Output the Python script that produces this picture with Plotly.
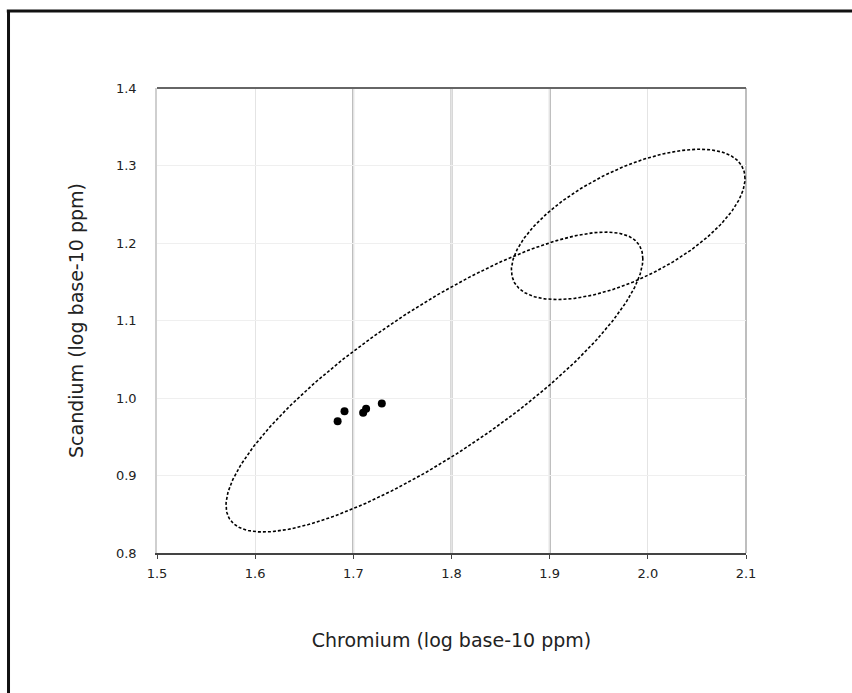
import numpy as np
import plotly.graph_objects as go

# Sample measurements (log10 ppm)
chromium = [1.684, 1.691, 1.710, 1.713, 1.729]
scandium = [0.970, 0.983, 0.981, 0.986, 0.993]

# Confidence ellipses: centre, half-widths along x / y, and correlation
ellipse_names = ["Group A", "Group B"]
ellipse_cx = [1.7826, 1.980]
ellipse_cy = [1.0206, 1.224]
ellipse_sx = [0.2123, 0.119]
ellipse_sy = [0.1935, 0.097]
ellipse_rho = [0.822, 0.61]

x_ticks = [1.5, 1.6, 1.7, 1.8, 1.9, 2.0, 2.1]
y_ticks = [0.8, 0.9, 1.0, 1.1, 1.2, 1.3, 1.4]
strong_x_grid = [1.7, 1.8, 1.9]

FONT = "DejaVu Sans"

fig = go.Figure()

t = np.linspace(0, 2 * np.pi, 400)
for name, cx, cy, sx, sy, rho in zip(ellipse_names, ellipse_cx, ellipse_cy,
                                     ellipse_sx, ellipse_sy, ellipse_rho):
    ex = cx + sx * np.cos(t)
    ey = cy + sy * (rho * np.cos(t) + np.sqrt(1 - rho ** 2) * np.sin(t))
    fig.add_trace(go.Scatter(
        x=ex, y=ey, mode="lines", name=name, showlegend=False,
        line=dict(color="black", width=1.6, dash="3px,2px"),
        hoverinfo="skip",
    ))

fig.add_trace(go.Scatter(
    x=chromium, y=scandium, mode="markers", showlegend=False,
    marker=dict(color="black", size=8, symbol="circle"),
))

shapes = []
# emphasised vertical grid lines
for xv in strong_x_grid:
    shapes.append(dict(type="line", xref="x", yref="paper", x0=xv, x1=xv,
                       y0=0, y1=1, line=dict(color="#666666", width=1.5),
                       layer="between"))
# right edge and top edge of the plot frame
shapes.append(dict(type="line", xref="paper", yref="paper", x0=1, x1=1,
                   y0=0, y1=1, line=dict(color="#a8a8a8", width=1.5),
                   layer="between"))
shapes.append(dict(type="line", xref="paper", yref="paper", x0=0, x1=1,
                   y0=1, y1=1, line=dict(color="#666666", width=2)))
# outer page border (left and top)
shapes.append(dict(type="line", xref="paper", yref="paper", x0=-0.2521,
                   x1=-0.2521, y0=-0.31, y1=1.167,
                   line=dict(color="#111111", width=3)))
shapes.append(dict(type="line", xref="paper", yref="paper", x0=-0.255,
                   x1=1.19, y0=1.1656, y1=1.1656,
                   line=dict(color="#111111", width=3)))

fig.update_layout(
    width=852, height=693,
    margin=dict(l=157, r=106, t=88, b=140),
    paper_bgcolor="white", plot_bgcolor="white",
    font=dict(family=FONT, color="#222222"),
    shapes=shapes,
    xaxis=dict(
        range=[1.5, 2.1], tickvals=x_ticks,
        ticktext=[f"{v:.1f}" for v in x_ticks],
        showgrid=True, gridcolor="#e4e4e4", gridwidth=1,
        zeroline=False, showline=True, linecolor="#444444", linewidth=2,
        ticks="outside", ticklen=4, tickcolor="#444444",
        tickfont=dict(size=13, family=FONT), ticklabelstandoff=3,
        title=dict(text="Chromium (log base-10 ppm)",
                   font=dict(size=19, family=FONT), standoff=54),
    ),
    yaxis=dict(
        range=[0.8, 1.4], tickvals=y_ticks,
        ticktext=[f"{v:.1f}" for v in y_ticks],
        showgrid=True, gridcolor="#efefef", gridwidth=1,
        zeroline=False, showline=True, linecolor="#cfcfcf", linewidth=1.5,
        ticks="", tickfont=dict(size=13, family=FONT), ticklabelstandoff=16,
        title=dict(text="Scandium (log base-10 ppm)",
                   font=dict(size=19, family=FONT), standoff=27),
    ),
)

fig.write_html("out.html")
